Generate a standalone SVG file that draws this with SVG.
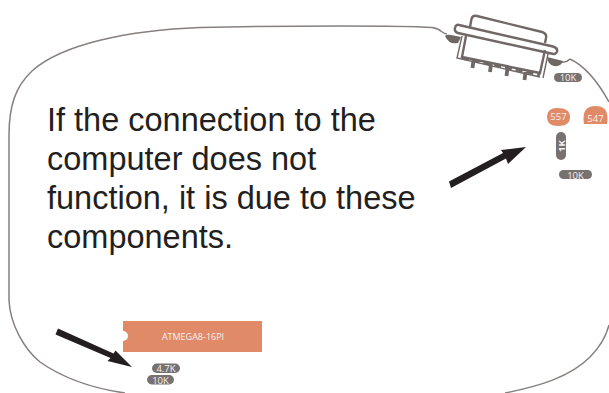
<svg xmlns="http://www.w3.org/2000/svg" width="609" height="393" viewBox="0 0 609 393">
<style>
.line{fill:none;stroke:#86807f;stroke-width:1.5}
.conn{fill:none;stroke:#6f6866;stroke-width:2.4}
.res{fill:#77716f}
.orange{fill:#e08a68}
.lbl{font-family:"Open Sans","Liberation Sans",sans-serif;font-size:9.500px;fill:#f4f1ef;text-anchor:middle}
.chip{font-size:9px}
.cap{font-family:"Liberation Sans",Arial,sans-serif;font-size:32.500px;fill:#231f20}
.arrow{fill:#231f20}
</style>
<rect width="609" height="393" fill="#fff"/>
<g id="outline">
<path class="line" d="M447 34C441 34 443 29 432 27.500C400 25.500 300 25.500 200 27.500C130 30 62 44 32 71C16 86 9 105 9 135L9 300C10 325 25 350 40 362C60 376 90 388 125 393"/>
<path class="line" d="M570 59C585 66 598 82 609 102"/>
<path class="line" d="M505 393C540 386 570 377 590 357C600 347 606 337 609 325"/>
</g>
<g id="connector" class="conn">
<path d="M470 27L471.500 19Q472.500 15 477 16L542 32Q547 33.500 546 38L545 43"/>
<path d="M459 25L553 46.500Q558 48 557 51.500Q556 55 551 53.500L458 33Q454 32 455 28Q456 24 459 25Z" fill="#fff"/>
<path d="M466 36L462 57L540 73L545 50"/>
<path d="M462 36L457 58L540 77" stroke-width="1.400"/>
<path d="M548 54L543 78" stroke-width="1.400"/>
<path d="M462 58L540 75" stroke-width="3" stroke-dasharray="7 4"/>
<path d="M473.500 60L472.500 68M491 64L490 72M507.500 68L506.500 76M525.500 72L524.500 80" stroke-width="3.800"/>
<path d="M445 36Q447 34 451 35L461 37L458 43Q449 45 445 36Z" fill="#6f6764" stroke="none"/>
<path d="M547 57L563 61Q561 67 554 66Q548 65 547 57Z" fill="#6f6764" stroke="none"/>
<path d="M562 62Q566 63 570 59" stroke-width="1.300"/>
</g>
<g id="r10k-top"><rect class="res" x="554" y="73" width="28" height="9" rx="4.500"/><text class="lbl" x="568" y="81">10K</text></g>
<g id="q557"><path class="orange" d="M547 117Q547 108 557 108Q570 108 570 117Q570 126 558 126Q547 126 547 117Z"/><text class="lbl" x="558.500" y="120">557</text></g>
<g id="q547"><path class="orange" d="M584 124Q581 106 595.500 106Q610 106 607 124Z"/><text class="lbl" x="595.500" y="122">547</text></g>
<g id="r1k"><rect class="res" x="556" y="132" width="10" height="28" rx="5"/><text class="lbl" transform="translate(564.500 146) rotate(-90)" font-weight="700">1K</text></g>
<g id="r10k-mid"><rect class="res" x="559" y="170" width="33" height="9" rx="4.500"/><text class="lbl" x="575.500" y="178.500">10K</text></g>
<g id="atmega"><path class="orange" d="M123 321H262V352H123V341A5 5 0 0 0 123 331Z"/><text class="lbl chip" x="193" y="339.500">ATMEGA8-16PI</text></g>
<g id="r47k"><rect class="res" x="152" y="363.500" width="28" height="9.500" rx="4.700"/><text class="lbl" x="166" y="372">4.7K</text></g>
<g id="r10k-low"><rect class="res" x="147" y="375" width="27" height="9.500" rx="4.700"/><text class="lbl" x="160.500" y="383.500">10K</text></g>
<g id="arrows">
<path class="arrow" d="M449 181.500L451 188L506 158.500L508 164L526 147L501 150L503 153Z"/>
<path class="arrow" d="M58 328.500L55.500 334.500L110.500 358L107.500 361L132 367L115.500 350.500L113.500 353.500Z"/>
</g>
<g id="caption" class="cap">
<text x="47" y="131">If the connection to the</text>
<text x="47" y="170">computer does not</text>
<text x="47" y="209">function, it is due to these</text>
<text x="47" y="248">components.</text>
</g>
</svg>
